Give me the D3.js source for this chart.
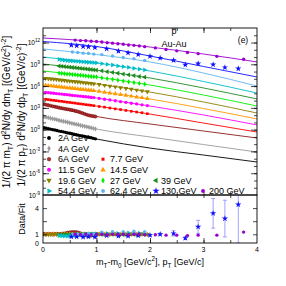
<!DOCTYPE html>
<html><head><meta charset="utf-8">
<script src="https://cdn.jsdelivr.net/npm/d3@7"></script>
<style>body{margin:0;background:#fff;} svg{display:block;font-family:"Liberation Sans",Arial,sans-serif;}</style>
</head><body><svg id="c" width="286" height="286"></svg>
<script>
// ---------------- DATA ----------------
const energies = ["2A GeV","4A GeV","6A GeV","7.7 GeV","11.5 GeV","14.5 GeV","19.6 GeV","27 GeV","39 GeV","54.4 GeV","62.4 GeV","130 GeV","200 GeV"];
const fitX = [0, 1, 2, 3, 4];
const fit_2A  = [1.95, 0.051, 2.9e-3, 3.2e-4, 3.5e-5];
const fit_4A  = [65, 1.2, 0.098, 8.9e-3, 8.3e-4];
const fit_6A  = [3.4e3, 65, 6.0, 0.65, 0.071];
const fit_7   = [1.7e4, 1.8e3, 140, 8.1, 0.47];
const fit_11  = [1.5e5, 2.3e4, 1.8e3, 105, 4.4];
const fit_14  = [1.4e6, 2.1e5, 1.7e4, 810, 30];
const fit_19  = [1.3e7, 1.9e6, 1.5e5, 6.5e3, 195];
const fit_27  = [1.2e8, 1.8e7, 1.4e6, 5.9e4, 1.8e3];
const fit_39  = [1.1e9, 1.6e8, 1.3e7, 5.5e5, 1.7e4];
const fit_54  = [1.0e10, 1.5e9, 1.2e8, 4.3e6, 1.1e5];
const fit_62  = [1.3e11, 2.2e10, 2.1e9, 6.3e7, 1.0e6];
const fit_130 = [1.38e12, 2.8e11, 1.38e10, 5.0e8, 1.8e7];
const fit_200 = [4.2e12, 1.38e12, 2.4e11, 2.6e10, 2.1e9];

// data point positions (mT-m0 or pT)
const x_AGS = [0.02,0.06,0.10,0.14,0.18,0.22,0.26,0.30,0.34,0.38,0.42,0.46,0.50,0.54,0.58,0.62,0.66,0.70,0.74,0.78,0.82,0.86,0.90,0.94,0.98];
const x_BESlow = [0.05,0.10,0.15,0.20,0.25,0.30,0.35,0.40,0.45,0.50,0.55,0.60,0.65,0.70,0.75,0.80,0.85,0.90,0.95,1.05,1.15,1.25,1.35,1.45,1.55,1.65,1.75,1.85,1.95];
const x_BEShigh = [0.30,0.35,0.40,0.45,0.50,0.55,0.60,0.65,0.70,0.75,0.80,0.85,0.90,0.95,1.00,1.10,1.20,1.30,1.40,1.50,1.60,1.70,1.80,1.90];
const x_62  = [0.55,0.65,0.75,0.85,0.95,1.10,1.30,1.50,1.70,1.90];
const x_130 = [0.53,0.63,0.75,0.85,0.97,1.19,1.41,1.59,1.78,2.00,2.19,2.44,2.66,2.90,3.18,3.40,3.65];
const x_200 = [0.60,0.70,0.80,0.90,1.00,1.10,1.20,1.30,1.40,1.50,1.60,1.70,1.80,1.90,2.10,2.30,2.50,2.70,2.90,3.25,3.75];

// Data/Fit ratios
const r_2A  = [1.02,0.98,1.01,1.00,0.99,1.02,1.00,0.97,1.01,1.03,1.00,0.98,1.00,1.02,0.99,1.01,1.00,0.98,1.02,1.00,0.99,1.01,1.03,1.00,0.98];
const r_4A  = [0.99,1.01,1.02,1.00,0.98,1.01,1.03,1.00,0.99,1.00,1.02,1.01,0.98,1.00,1.01,0.99,1.02,1.00,0.98,1.01,1.00,1.02,0.99,1.00,1.01];
const r_6A  = [1.02,1.00,1.03,1.01,1.00,1.02,1.04,1.02,1.05,1.08,1.12,1.18,1.22,1.25,1.26,1.24,1.20,1.12,1.02,0.92,0.85,0.82,0.84,0.88,0.90];
const r_7   = [1.00,1.02,0.98,1.01,1.00,0.99,1.02,1.00,0.98,1.01,1.00,1.02,0.99,1.00,1.01,0.98,1.00,1.02,1.00,0.97,1.03,1.00,0.98,1.02,1.00,0.99,1.01,1.03,0.98];
const r_11  = [0.99,1.01,1.00,1.02,0.98,1.00,1.01,0.99,1.02,1.00,0.98,1.01,1.00,1.02,0.99,1.00,1.01,0.98,1.02,1.00,0.99,1.02,1.00,0.98,1.01,1.00,1.03,0.99,1.00];
const r_14  = [1.01,0.99,1.00,1.02,1.00,0.98,1.01,1.00,0.99,1.02,1.01,0.99,1.00,0.98,1.02,1.00,0.99,1.01,1.00,1.02,0.98,1.00,1.01,0.99,1.03,1.00,0.98,1.01,1.00];
const r_19  = [1.00,0.98,1.01,1.00,1.02,0.99,1.00,1.01,0.98,1.00,1.02,1.00,0.99,1.01,1.00,0.98,1.02,1.00,0.99,1.01,1.00,0.98,1.02,1.00,0.99,1.01,1.00,1.02,0.99];
const r_27  = [0.90,0.88,0.92,0.90,0.93,0.90,0.95,0.92,0.94,0.96,0.95,0.97,0.96,0.98,1.00,1.00,0.98,1.02,1.00,0.97,1.00,1.02,0.98,1.00];
const r_39  = [0.95,0.93,0.96,0.94,0.97,0.95,0.98,0.96,0.99,0.97,1.00,0.98,1.00,0.99,1.01,1.00,0.98,1.02,1.00,0.99,1.01,1.00,0.98,1.00];
const r_54  = [0.85,0.82,0.80,0.78,0.80,0.82,0.85,0.88,0.90,0.92,0.95,0.97,1.00,1.02,1.05,1.08,1.10,1.15,1.10,1.12,1.15,1.10,1.12,1.10];
const r_62  = [1.00,1.05,1.00,1.10,1.05,1.25,1.30,1.30,1.35,1.30];
const r_130 = [0.72,0.72,0.68,0.72,0.68,0.85,0.80,0.80,0.85,0.90,1.00,1.10,0.55,1.85,3.40,2.80,4.40];
const e_130 = [0.05,0.05,0.05,0.05,0.05,0.06,0.06,0.07,0.08,0.10,0.12,0.30,0.15,0.75,1.70,2.10,4.40];
const r_200 = [1.00,0.95,1.00,0.95,1.00,1.00,0.95,1.00,1.00,1.00,0.95,1.00,1.00,0.95,0.95,0.90,0.90,0.85,0.90,0.90,1.25];

// ---------------- STYLE ----------------
const colors = ["#000000","#9a9a9a","#8b1a1a","#ff0000","#ff00ff","#ff9900","#8b8000","#00ee00","#1f8a1f","#00bcc8","#5fb4f5","#1010ff","#9a00cc"];
const shapes = ["circle","diamond","circleS","square","circle","triU","triD","diamond","triL","triR","circle","star","circle"];

const fits = [fit_2A,fit_4A,fit_6A,fit_7,fit_11,fit_14,fit_19,fit_27,fit_39,fit_54,fit_62,fit_130,fit_200];
const xs = [x_AGS,x_AGS,x_AGS,x_BESlow,x_BESlow,x_BESlow,x_BESlow,x_BEShigh,x_BEShigh,x_BEShigh,x_62,x_130,x_200];
const rs = [r_2A,r_4A,r_6A,r_7,r_11,r_14,r_19,r_27,r_39,r_54,r_62,r_130,r_200];

// ---------------- LAYOUT ----------------
const svg = d3.select("#c");
const X0=43, X1=257, YT=28, YM=195, YB=243;
const x = d3.scaleLinear().domain([0,4]).range([X0,X1]);
const yTop = d3.scaleLog().domain([1e-9,1e14]).range([YM,YT]);
const yBot = d3.scaleLinear().domain([0,5.5]).range([YB,YM]);

const defs = svg.append("defs");
defs.append("clipPath").attr("id","clipT").append("rect").attr("x",X0).attr("y",YT).attr("width",X1-X0).attr("height",YM-YT);
defs.append("clipPath").attr("id","clipB").append("rect").attr("x",X0).attr("y",YM).attr("width",X1-X0).attr("height",YB-YM);

function fitAt(fv, xv){
  let i = d3.bisectRight(fitX, xv) - 1;
  i = Math.max(0, Math.min(fitX.length-2, i));
  const t = (xv - fitX[i])/(fitX[i+1]-fitX[i]);
  return Math.pow(10, Math.log10(fv[i])*(1-t) + Math.log10(fv[i+1])*t);
}

function symPath(shape, size){
  const map = {circle:d3.symbolCircle, circleS:d3.symbolCircle, diamond:d3.symbolDiamond, square:d3.symbolSquare,
    triU:d3.symbolTriangle, triD:d3.symbolTriangle, triL:d3.symbolTriangle, triR:d3.symbolTriangle, star:d3.symbolStar};
  return d3.symbol().type(map[shape]).size(size)();
}
const rot = {triD:180, triL:-90, triR:90};
const sizes = {circle:9, circleS:8, diamond:8, square:7, triU:10, triD:10, triL:10, triR:10, star:12};
function drawSym(g, shape, color, px, py, scale=1){
  const r = rot[shape] || 0;
  const p = g.append("path").attr("d", symPath(shape, sizes[shape]*scale))
    .attr("transform", `translate(${px},${py}) rotate(${r})`)
    .attr("fill", color);
  if (shape==="circleS") p.attr("fill","#b03030").attr("stroke","#6a0000").attr("stroke-width",0.5);
  return p;
}

// ---------- upper panel ----------
const gT = svg.append("g").attr("clip-path","url(#clipT)");
const line = d3.line().x(d=>x(d[0])).y(d=>yTop(d[1])).curve(d3.curveMonotoneX);
fits.forEach((fv,i)=>{
  gT.append("path").datum(fitX.map((xv,k)=>[xv,fv[k]])).attr("d",line)
    .attr("fill","none").attr("stroke",colors[i]).attr("stroke-width",0.9);
});
fits.forEach((fv,i)=>{
  xs[i].forEach((xv,k)=>{
    drawSym(gT, shapes[i], colors[i], x(xv), yTop(fitAt(fv,xv)*rs[i][k]));
  });
});

// ---------- lower panel ----------
const gB = svg.append("g").attr("clip-path","url(#clipB)");
x_130.forEach((xv,k)=>{
  const lo = yBot(r_130[k]-e_130[k]), hi = yBot(r_130[k]+e_130[k]);
  gB.append("line").attr("x1",x(xv)).attr("x2",x(xv)).attr("y1",lo).attr("y2",hi).attr("stroke","#8c8cff").attr("stroke-width",0.8);
  [lo,hi].forEach(yy=>gB.append("line").attr("x1",x(xv)-2).attr("x2",x(xv)+2).attr("y1",yy).attr("y2",yy).attr("stroke","#8c8cff").attr("stroke-width",0.8));
});
fits.forEach((fv,i)=>{
  xs[i].forEach((xv,k)=>{
    drawSym(gB, shapes[i], colors[i], x(xv), yBot(rs[i][k]));
  });
});

// ---------- frames ----------
svg.append("rect").attr("x",X0).attr("y",YT).attr("width",X1-X0).attr("height",YM-YT).attr("fill","none").attr("stroke","#000").attr("stroke-width",0.9);
svg.append("rect").attr("x",X0).attr("y",YM).attr("width",X1-X0).attr("height",YB-YM).attr("fill","none").attr("stroke","#000").attr("stroke-width",0.9);

// ---------- axes ----------
function ax(gen, tx, ty){
  const g = svg.append("g").attr("transform",`translate(${tx},${ty})`).call(gen);
  g.select(".domain").remove();
  g.selectAll("line").attr("stroke","#000").attr("stroke-width",0.7);
  g.selectAll("text").remove();
  return g;
}
const xMinor = [0.5,1,1.5,2,2.5,3,3.5];
const xMajor = [1,2,3];
ax(d3.axisTop(x).tickValues(xMinor).tickSizeInner(-3).tickSizeOuter(0), 0, YT);
ax(d3.axisTop(x).tickValues(xMajor).tickSizeInner(-5).tickSizeOuter(0), 0, YT);
ax(d3.axisBottom(x).tickValues(xMinor).tickSizeInner(-3).tickSizeOuter(0), 0, YM);
ax(d3.axisTop(x).tickValues(xMinor).tickSizeInner(-3).tickSizeOuter(0), 0, YM);
ax(d3.axisBottom(x).tickValues(xMinor).tickSizeInner(-3).tickSizeOuter(0), 0, YB);
ax(d3.axisBottom(x).tickValues(xMajor).tickSizeInner(-5).tickSizeOuter(0), 0, YB);

const decades = d3.range(-8, 14).map(e=>Math.pow(10,e));
const yMajor = [1e-9,1e-6,1e-3,1,1e3,1e6,1e9,1e12];
ax(d3.axisLeft(yTop).tickValues(decades).tickSizeInner(-3).tickSizeOuter(0), X0, 0);
ax(d3.axisLeft(yTop).tickValues(yMajor.slice(1)).tickSizeInner(-6).tickSizeOuter(0), X0, 0);
ax(d3.axisRight(yTop).tickValues(decades).tickSizeInner(-3).tickSizeOuter(0), X1, 0);
ax(d3.axisRight(yTop).tickValues(yMajor.slice(1)).tickSizeInner(-6).tickSizeOuter(0), X1, 0);
const rTicks = [1, 2.5, 4];
ax(d3.axisLeft(yBot).tickValues(rTicks).tickSizeInner(-4).tickSizeOuter(0), X0, 0);
ax(d3.axisRight(yBot).tickValues(rTicks).tickSizeInner(-4).tickSizeOuter(0), X1, 0);

// tick labels
const xLab = [0,1,2,3,4];
svg.append("g").selectAll("text").data(xLab).join("text")
  .attr("x",d=>x(d)).attr("y",YB+9).attr("text-anchor","middle").attr("font-size",7).text(d=>d);
const rLab = [0,1,4];
svg.append("g").selectAll("text").data(rLab).join("text")
  .attr("x",X0-4).attr("y",d=>yBot(d)+2.5).attr("text-anchor","end").attr("font-size",7).text(d=>d);

function rich(sel, parts, size){
  let cur = 0;
  parts.forEach(([t,m])=>{
    const target = m==="sub" ? size*0.3 : m==="sup" ? -size*0.42 : 0;
    sel.append("tspan").attr("dy", target-cur).attr("font-size", m ? size*0.7 : size).text(t);
    cur = target;
  });
}
yMajor.forEach(v=>{
  const e = Math.round(Math.log10(v));
  const t = svg.append("text").attr("x",X0-3).attr("y",yTop(v)+2.5).attr("text-anchor","end").attr("font-size",6.5);
  rich(t, [["10"],[String(e),"sup"]], 6.5);
});

// axis titles
const tx = svg.append("text").attr("x",150).attr("y",265).attr("text-anchor","middle").attr("font-size",9);
rich(tx, [["m"],["T","sub"],["-m"],["0","sub"],[" [GeV/c"],["2","sup"],["],  p"],["T","sub"],[" [GeV/c]"]], 9);

const ty1 = svg.append("text").attr("transform","translate(10,112) rotate(-90)").attr("text-anchor","middle").attr("font-size",10);
rich(ty1, [["1/(2 π m"],["T","sub"],[") d"],["2","sup"],["N/dy dm"],["T","sub"],[" [(GeV/c"],["2","sup"],[")"],["-2","sup"],["]"]], 10);
const ty2 = svg.append("text").attr("transform","translate(25,115) rotate(-90)").attr("text-anchor","middle").attr("font-size",10);
rich(ty2, [["1/(2 π p"],["T","sub"],[") d"],["2","sup"],["N/dy dp"],["T","sub"],[" [(GeV/c)"],["-2","sup"],["]"]], 10);
svg.append("text").attr("transform","translate(25,219) rotate(-90)").attr("text-anchor","middle").attr("font-size",9).text("Data/Fit");

// panel labels
svg.append("text").attr("x",174).attr("y",34).attr("text-anchor","middle").attr("font-size",9).text("p");
svg.append("line").attr("x1",171.5).attr("x2",176.5).attr("y1",28.8).attr("y2",28.8).attr("stroke","#000").attr("stroke-width",0.7);
svg.append("text").attr("x",174).attr("y",46.5).attr("text-anchor","middle").attr("font-size",9).text("Au-Au");
svg.append("text").attr("x",243).attr("y",43).attr("text-anchor","middle").attr("font-size",8.5).text("(e)");

// legend
const legPos = [[0,0],[0,1],[0,2],[1,2],[0,3],[1,3],[0,4],[1,4],[2,4],[0,5],[1,5],[2,5],[3,5]];
const colMark = [49,103,156,203], colText = [58,110,161,209];
const rowY = [138,148.6,159.2,169.8,180.4,191];
const gL = svg.append("g");
energies.forEach((name,i)=>{
  const [c,r] = legPos[i];
  drawSym(gL, shapes[i], colors[i], colMark[c], rowY[r], 1.3);
  gL.append("text").attr("x",colText[c]).attr("y",rowY[r]+3.2).attr("font-size",9).text(name);
});
</script></body></html>
